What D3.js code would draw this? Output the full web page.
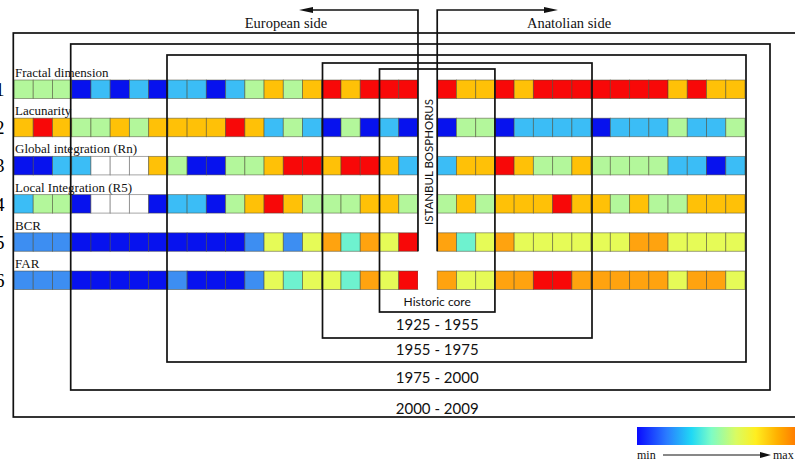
<!DOCTYPE html>
<html>
<head>
<meta charset="utf-8">
<script src="https://cdn.jsdelivr.net/npm/d3@7"></script>
<style>
  body { margin: 0; background: #fff; }
  svg { display: block; }
</style>
</head>
<body>
<svg id="chart" width="795" height="461"></svg>
<script>
// Indicators (rows) and their numbering
const indicators = ["Fractal dimension", "Lacunarity", "Global integration (Rn)", "Local Integration (R5)", "BCR", "FAR"];
const rowNumbers = ["1", "2", "3", "4", "5", "6"];

// Normalised scores (0 = min, 1 = max) for each of the 38 districts, west to east.
// null = no value (the Bosphorus column and unmapped districts).
const fractalDimension = [0.5, 0.5, 0.5, 0.05, 0.28, 0.05, 0.28, 0.05, 0.28, 0.28, 0.05, 0.28, 0.5, 0.74, 0.5, 0.74, 0.96, 0.74, 0.96, 0.96, 0.96, null, 0.96, 0.74, 0.74, 0.96, 0.74, 0.96, 0.96, 0.96, 0.96, 0.96, 0.96, 0.96, 0.74, 0.96, 0.74, 0.74];
const lacunarity = [0.74, 0.96, 0.74, 0.5, 0.5, 0.74, 0.5, 0.74, 0.74, 0.74, 0.74, 0.96, 0.74, 0.28, 0.5, 0.28, 0.05, 0.5, 0.05, 0.28, 0.05, null, 0.05, 0.5, 0.5, 0.05, 0.28, 0.28, 0.28, 0.28, 0.05, 0.28, 0.28, 0.28, 0.5, 0.28, 0.28, 0.5];
const globalIntegration = [0.05, 0.05, 0.28, 0.28, null, null, null, 0.74, 0.5, 0.05, 0.05, 0.5, 0.5, 0.74, 0.96, 0.96, 0.74, 0.96, 0.96, 0.74, 0.28, null, 0.28, 0.74, 0.74, 0.96, 0.74, 0.5, 0.5, 0.74, 0.5, 0.5, 0.5, 0.5, 0.28, 0.28, 0.05, 0.28];
const localIntegration = [0.28, 0.5, 0.5, 0.05, null, null, null, 0.05, 0.28, 0.28, 0.05, 0.5, 0.74, 0.96, 0.74, 0.5, 0.5, 0.5, 0.74, 0.74, 0.5, null, 0.5, 0.74, 0.5, 0.74, 0.74, 0.74, 0.96, 0.74, 0.74, 0.5, 0.74, 0.5, 0.5, 0.74, 0.74, 0.74];
const bcr = [0.18, 0.18, 0.18, 0.05, 0.05, 0.05, 0.05, 0.05, 0.05, 0.05, 0.05, 0.05, 0.18, 0.62, 0.18, 0.62, 0.82, 0.4, 0.82, 0.62, 0.96, null, 0.82, 0.4, 0.62, 0.82, 0.62, 0.62, 0.62, 0.62, 0.62, 0.62, 0.82, 0.82, 0.62, 0.62, 0.62, 0.62];
const far = [0.18, 0.18, 0.18, 0.05, 0.05, 0.05, 0.05, 0.05, 0.18, 0.05, 0.05, 0.05, 0.18, 0.62, 0.4, 0.62, 0.62, 0.4, 0.82, 0.62, 0.96, null, 0.82, 0.62, 0.62, 0.82, 0.82, 0.96, 0.96, 0.82, 0.82, 0.82, 0.82, 0.82, 0.62, 0.82, 0.82, 0.62];

// Urban growth periods (innermost first) and other annotations
const periods = ["Historic core", "1925 - 1955", "1955 - 1975", "1975 - 2000", "2000 - 2009"];
const sides = ["European side", "Anatolian side"];
const straitLabel = "ISTANBUL BOSPHORUS";
const legendLabels = ["min", "max"];

const rows = [fractalDimension, lacunarity, globalIntegration, localIntegration, bcr, far];
const nCells = fractalDimension.length;
const straitIndex = 21;

const svg = d3.select("#chart");

// Scales
const x = d3.scaleBand().domain(d3.range(nCells)).range([14, 745]).padding(0);
const y = d3.scaleBand().domain(indicators).range([80, 289.5]).paddingInner(0.516).paddingOuter(0);
const color = d3.scaleThreshold()
  .domain([0.12, 0.23, 0.34, 0.45, 0.56, 0.68, 0.78, 0.9])
  .range(["#0712ee", "#3d8ef2", "#3bbdf6", "#6ef2cf", "#b3f79b", "#e6fb57", "#ffc107", "#ffa30f", "#f80808"]);

const serif = "'Liberation Serif', 'Times New Roman', serif";
const sans = "Lato, 'Open Sans', sans-serif";

// Heatmap cells
const cellLayer = svg.append("g");
indicators.forEach((name, r) => {
  cellLayer.selectAll(null)
    .data(rows[r].map((v, i) => ({ i, v })))
    .join("rect")
    .attr("x", d => x(d.i))
    .attr("y", y(name))
    .attr("width", x.bandwidth())
    .attr("height", y.bandwidth())
    .attr("fill", d => d.v == null ? "#ffffff" : color(d.v))
    .attr("stroke", d => d.v == null ? (d.i === straitIndex ? "none" : "rgba(90,90,90,0.6)") : "rgba(70,70,50,0.55)")
    .attr("stroke-width", 0.9);
});

// Row titles above each strip
svg.append("g").selectAll("text")
  .data(indicators)
  .join("text")
  .attr("x", 15)
  .attr("y", d => y(d) - 3)
  .attr("font-family", serif)
  .attr("font-size", 13)
  .attr("fill", "#111")
  .text(d => d);

// Row numbers at the left margin
svg.append("g").selectAll("text")
  .data(indicators)
  .join("text")
  .attr("x", 4.5)
  .attr("y", d => y(d) + 16)
  .attr("text-anchor", "end")
  .attr("font-family", serif)
  .attr("font-size", 19)
  .attr("fill", "#000")
  .text((d, i) => rowNumbers[i]);

// Nested frames of the growth periods
const frames = [
  { left: x(19), right: x(24) + x.bandwidth(), top: 69, bottom: 312, labelY: 306, size: 12 },
  { left: 322.5, right: 592, top: 63, bottom: 338, labelY: 329.5, size: 15 },
  { left: 167, right: 746, top: 55, bottom: 362, labelY: 354.5, size: 15 },
  { left: 70.7, right: 770, top: 44, bottom: 390, labelY: 382.5, size: 15 },
  { left: 13.3, right: 830, top: 33, bottom: 417, labelY: 413.5, size: 15 }
];
const labelX = (frames[0].left + frames[0].right) / 2;

const frameLayer = svg.append("g");
frameLayer.selectAll("rect")
  .data(frames)
  .join("rect")
  .attr("x", d => d.left)
  .attr("y", d => d.top)
  .attr("width", d => d.right - d.left)
  .attr("height", d => d.bottom - d.top)
  .attr("fill", "none")
  .attr("stroke", "#111")
  .attr("stroke-width", 1.7);

frameLayer.selectAll("text")
  .data(frames)
  .join("text")
  .attr("x", labelX)
  .attr("y", d => d.labelY)
  .attr("text-anchor", "middle")
  .attr("font-family", sans)
  .attr("font-size", d => d.size)
  .attr("fill", "#111")
  .text((d, i) => periods[i]);

// Bosphorus strip with the two side arrows
const sx0 = x(straitIndex);
const sx1 = x(straitIndex) + x.bandwidth();
const arrowY = 10;
const stripBottom = y("BCR") + y.bandwidth();
const strait = svg.append("g").attr("stroke", "#111").attr("stroke-width", 1.7).attr("fill", "none");
strait.append("path").attr("d", `M${sx0},${stripBottom} V${arrowY} H311`);
strait.append("path").attr("d", `M${sx1},${stripBottom} V${arrowY} H546`);
svg.append("path").attr("d", `M299,${arrowY} L313,${arrowY - 3} L313,${arrowY + 3} Z`).attr("fill", "#111");
svg.append("path").attr("d", `M558,${arrowY} L544,${arrowY - 3} L544,${arrowY + 3} Z`).attr("fill", "#111");

svg.append("text")
  .attr("x", 286).attr("y", 28)
  .attr("text-anchor", "middle")
  .attr("font-family", serif).attr("font-size", 14.5).attr("fill", "#111")
  .text(sides[0]);
svg.append("text")
  .attr("x", 569).attr("y", 28)
  .attr("text-anchor", "middle")
  .attr("font-family", serif).attr("font-size", 14.5).attr("fill", "#111")
  .text(sides[1]);

svg.append("text")
  .attr("transform", `translate(${(sx0 + sx1) / 2 + 0.5},162) rotate(-90)`)
  .attr("text-anchor", "middle")
  .attr("dominant-baseline", "central")
  .attr("font-family", sans).attr("font-size", 11.5).attr("fill", "#111")
  .text(straitLabel);

// Colour legend
const defs = svg.append("defs");
const grad = defs.append("linearGradient").attr("id", "scaleGrad").attr("x1", "0%").attr("x2", "100%");
[[0, "#0a0aff"], [0.18, "#2a7cff"], [0.33, "#20d8f5"], [0.45, "#7dfcc6"], [0.6, "#d9fb62"], [0.72, "#ffee20"], [0.85, "#ffb000"], [1, "#ff6a00"]]
  .forEach(([o, c]) => grad.append("stop").attr("offset", o).attr("stop-color", c));
svg.append("rect")
  .attr("x", 637).attr("y", 427).attr("width", 165).attr("height", 18)
  .attr("fill", "url(#scaleGrad)");

svg.append("text")
  .attr("x", 637).attr("y", 459)
  .attr("font-family", serif).attr("font-size", 12).attr("fill", "#111")
  .text(legendLabels[0]);
svg.append("text")
  .attr("x", 773).attr("y", 459)
  .attr("font-family", serif).attr("font-size", 12).attr("fill", "#111")
  .text(legendLabels[1]);
svg.append("line")
  .attr("x1", 663).attr("x2", 762).attr("y1", 455).attr("y2", 455)
  .attr("stroke", "#111").attr("stroke-width", 1);
svg.append("path").attr("d", "M771,455 L760,452 L760,458 Z").attr("fill", "#111");
</script>
</body>
</html>
